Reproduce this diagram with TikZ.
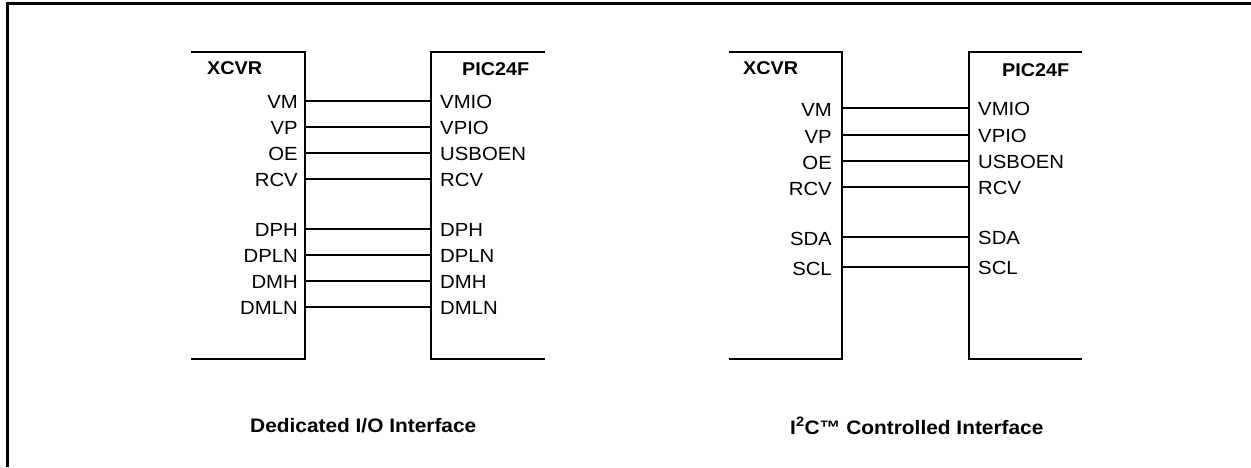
\documentclass[tikz,border=0pt]{standalone}
\usepackage{fontspec}
\setmainfont{Liberation Sans}[FakeStretch=1.07]
\begin{document}
\begin{tikzpicture}[x=1pt,y=-1pt,
  frame/.style={line width=3pt},
  chip/.style={line width=2.2pt},
  wire/.style={line width=1.8pt},
  lpin/.style={anchor=east,inner sep=0pt,font=\fontsize{19}{22}\selectfont},
  rpin/.style={anchor=west,inner sep=0pt,font=\fontsize{19}{22}\selectfont},
  hdr/.style={anchor=west,inner sep=0pt,font=\bfseries\fontsize{18.5}{22}\selectfont},
  caption/.style={anchor=west,inner sep=0pt,font=\bfseries\fontsize{19.5}{23}\selectfont}]
\useasboundingbox (0,0) rectangle (1251,467);
% outer frame
\draw[frame] (7,467) -- (7,3) -- (1251,3);

% ---------- left panel: dedicated I/O ----------
\draw[chip] (191,52) -- (305,52) -- (305,359) -- (191,359);
\draw[chip] (545,52) -- (431,52) -- (431,359) -- (545,359);
\node[hdr] (xa) at (207,68) {XCVR};
\node[hdr] (pa) at (462,69) {PIC24F};
\foreach \y/\l/\r [count=\i] in {101/VM/VMIO,127/VP/VPIO,153/OE/USBOEN,179/RCV/RCV,229/DPH/DPH,255/DPLN/DPLN,281/DMH/DMH,307/DMLN/DMLN}{
  \node[lpin] (la\i) at (298,\y+1) {\l};
  \node[rpin] (ra\i) at (440,\y+1) {\r};
  \coordinate (sa\i) at (305,\y);
  \coordinate (ta\i) at (431,\y);
  \draw[wire] (sa\i) -- (ta\i);
}
\node[caption] (ca) at (250,426) {Dedicated I/O Interface};

% ---------- right panel: I2C controlled ----------
\draw[chip] (729,52) -- (842,52) -- (842,359) -- (729,359);
\draw[chip] (1082,52) -- (969,52) -- (969,359) -- (1082,359);
\node[hdr] (xb) at (743,68) {XCVR};
\node[hdr] (pb) at (1002,70) {PIC24F};
\foreach \y/\l/\r [count=\i] in {108/VM/VMIO,135/VP/VPIO,161/OE/USBOEN,187/RCV/RCV,237/SDA/SDA,267/SCL/SCL}{
  \node[lpin] (lb\i) at (832,\y+2) {\l};
  \node[rpin] (rb\i) at (978,\y+1) {\r};
  \coordinate (sb\i) at (842,\y);
  \coordinate (tb\i) at (969,\y);
  \draw[wire] (sb\i) -- (tb\i);
}
\node[caption] (cb) at (790,426) {I\textsuperscript{2}C™ Controlled Interface};
\end{tikzpicture}
\end{document}
